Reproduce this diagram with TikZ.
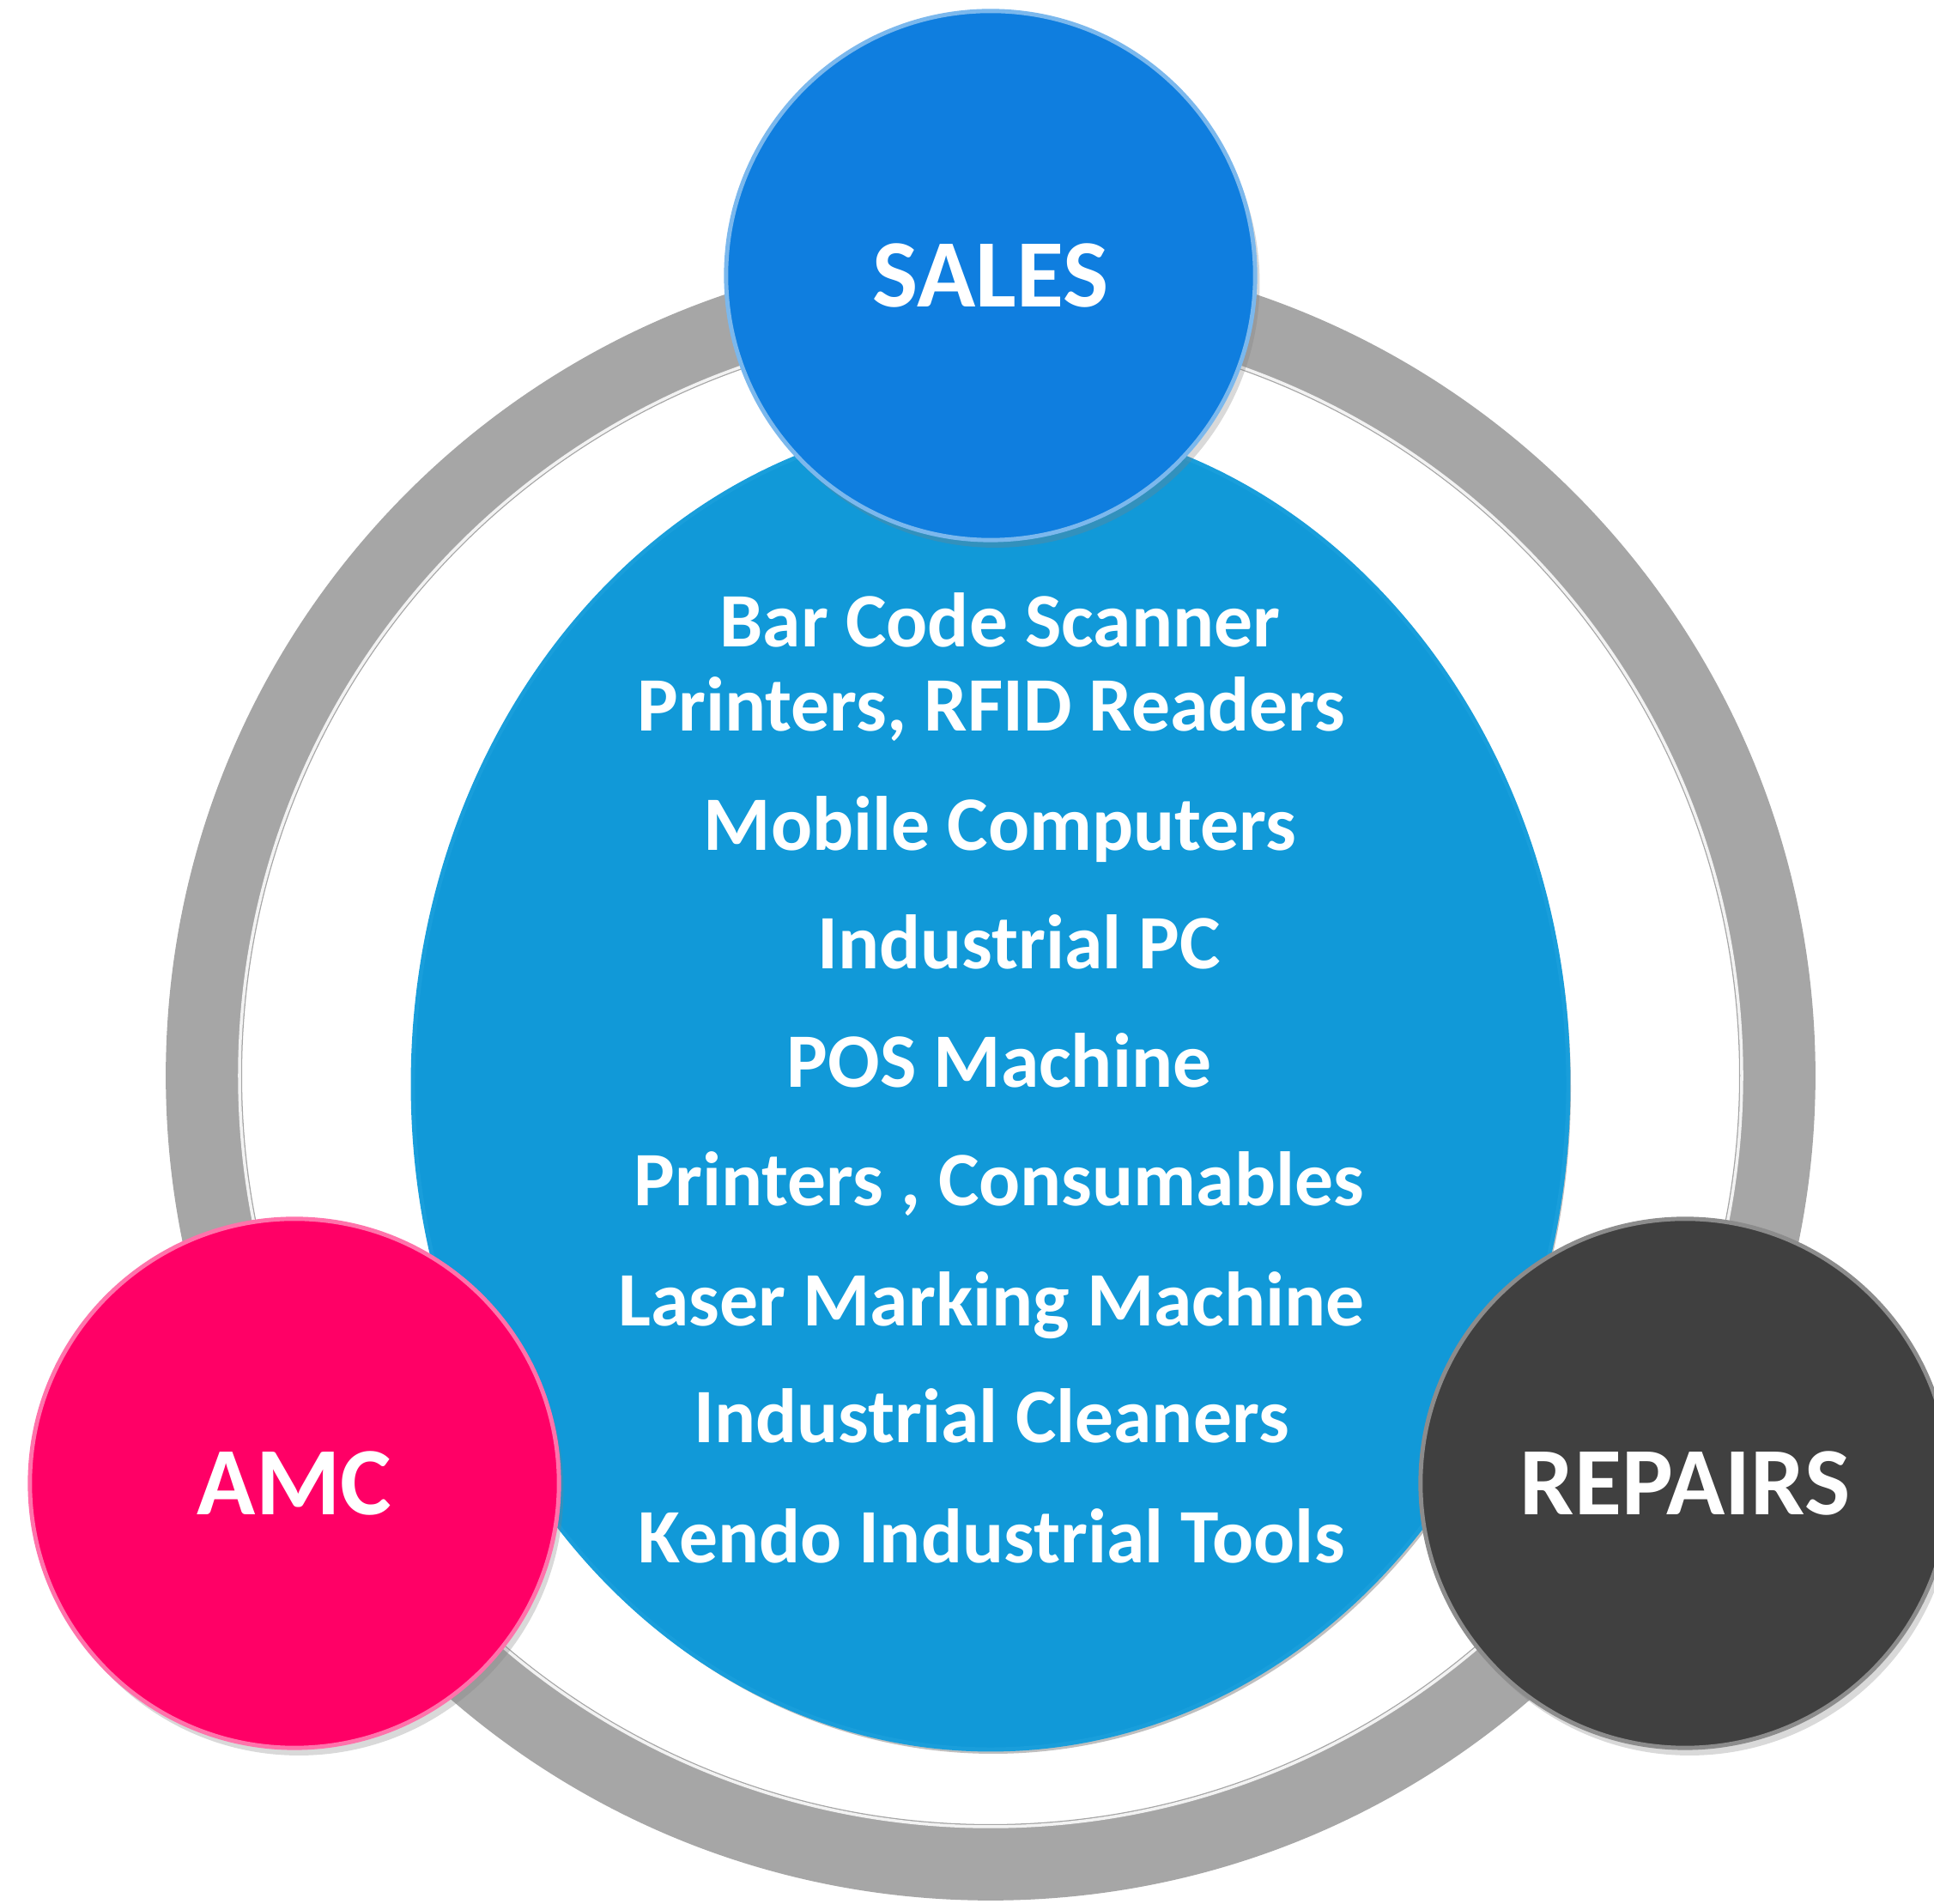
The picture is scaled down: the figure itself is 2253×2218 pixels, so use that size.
\documentclass[tikz,border=0pt]{standalone}
\usepackage{fontspec}
\setmainfont{Carlito}
\usetikzlibrary{shadows}

\definecolor{ringgray}{HTML}{A6A6A6}
\definecolor{coreblue}{HTML}{1199D8}
\definecolor{salesblue}{HTML}{0F7EDF}
\definecolor{amcpink}{HTML}{FF0066}
\definecolor{repairsgray}{HTML}{404040}

\tikzset{
  bubble/.style={circle,minimum size=6.16cm,inner sep=0pt,text=white,
    font=\bfseries\fontsize{32}{38}\selectfont,line width=1.4pt,
    drop shadow={opacity=0.3,shadow xshift=1.5pt,shadow yshift=-2.5pt}},
  item/.style={anchor=base,text=white,inner sep=0pt,
    font=\bfseries\fontsize{25.5}{30}\selectfont}
}

\begin{document}
\begin{tikzpicture}[x=0.01cm,y=0.01cm]
\useasboundingbox (0,0) rectangle (2253,2218);
\coordinate (o) at (1154,965);

% grey ring
\draw[ringgray,line width=0.88cm] (o) circle (916);
\draw[white!85!ringgray,line width=1pt] (o) circle (875);
\draw[gray!70,line width=0.5pt] (o) circle (960);

% centre disc
\fill[black,opacity=0.25] (1157,950) ellipse [x radius=673,y radius=775];
\filldraw[fill=coreblue,draw=cyan!60!coreblue,line width=1.4pt]
  (1154,955) ellipse [x radius=673,y radius=775];

\node[item] (l1) at (1165,1464) {Bar Code Scanner};
\node[item] (l2) at (1155,1366) {Printers, RFID Readers};
\node[item] (l3) at (1165,1227) {Mobile Computers};
\node[item] (l4) at (1187,1089) {Industrial PC};
\node[item] (l5) at (1164,951) {POS Machine};
\node[item] (l6) at (1164,813) {Printers , Consumables};
\node[item] (l7) at (1155,673) {Laser Marking Machine};
\node[item] (l8) at (1155,537) {Industrial Cleaners};
\node[item] (l9) at (1155,397) {Kendo Industrial Tools};

% the three services
\node[bubble,fill=salesblue,draw=salesblue!55!white] (sales) at (1154,1897) {SALES};
\node[bubble,fill=amcpink,draw=amcpink!55!white] (amc) at (343,490) {AMC};
\node[bubble,fill=repairsgray,draw=repairsgray!60!white] (repairs) at (1963,490) {REPAIRS};

\end{tikzpicture}
\end{document}
